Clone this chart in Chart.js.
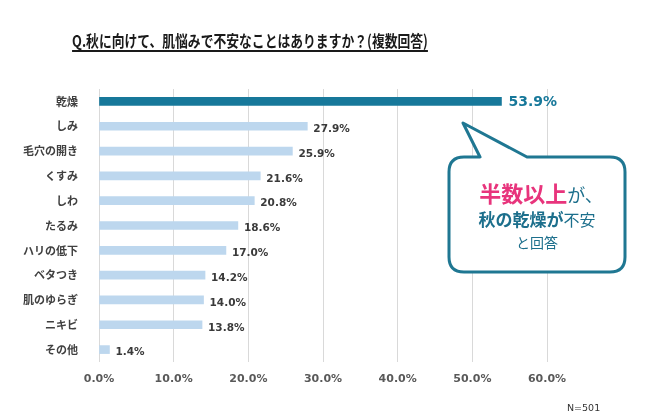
<!DOCTYPE html>
<html>
<head>
<meta charset="utf-8">
<script src="https://cdn.jsdelivr.net/npm/chart.js@4.4.1/dist/chart.umd.min.js"></script>
<style>
  html, body { margin: 0; padding: 0; background: #fff; }
  #wrap { position: relative; width: 650px; height: 417px; overflow: hidden; }
  #title {
    position: absolute; left: 0; width: 500px; top: 28px; text-align: center;
    font-family: 'Noto Sans CJK JP', sans-serif; font-weight: bold; font-size: 16px;
    color: #1a1a1a; text-decoration: underline; text-decoration-thickness: 2px;
    text-underline-offset: 3px; white-space: nowrap;
    transform: scaleX(0.8); transform-origin: 250px 0;
  }
  #note { position: absolute; left: 567px; top: 402px; font-family: 'DejaVu Sans', sans-serif; font-size: 9.5px; color: #333; }
  #callout { position: absolute; left: 0; top: 0; }
  .cl { position: absolute; left: 449px; width: 176px; text-align: center; font-family: 'Noto Sans CJK JP', sans-serif; color: #1c6f8c; white-space: nowrap; }
</style>
</head>
<body>
<div id="wrap">
  <canvas id="barChart" width="650" height="417"></canvas>
  <div id="title">Q.秋に向けて、肌悩みで不安なことはありますか？(複数回答)</div>
  <svg id="callout" width="650" height="417">
    <path d="M 527 157 L 463 123 L 480 157 H 464 Q 449 157 449 172 V 257 Q 449 272 464 272 H 610 Q 625 272 625 257 V 172 Q 625 157 610 157 Z"
          fill="#fff" stroke="#1f7792" stroke-width="3" stroke-linejoin="round"/>
  </svg>
  <div class="cl" style="top:176px;left:453px;"><span style="color:#e8347c;font-weight:bold;font-size:22px;">半数以上</span><span style="font-size:18px;">が、</span></div>
  <div class="cl" style="top:206px;"><span style="font-weight:bold;font-size:17px;">秋の乾燥が</span><span style="font-size:16px;">不安</span></div>
  <div class="cl" style="top:232px;font-size:14px;">と回答</div>
  <div id="note">N=501</div>
</div>
<script>
// values
const categories = ['乾燥', 'しみ', '毛穴の開き', 'くすみ', 'しわ', 'たるみ', 'ハリの低下', 'ベタつき', '肌のゆらぎ', 'ニキビ', 'その他'];
const percents = [53.9, 27.9, 25.9, 21.6, 20.8, 18.6, 17.0, 14.2, 14.0, 13.8, 1.4];
const xTicks = [0, 10, 20, 30, 40, 50, 60];

const darkColor = '#17789a';
const lightColor = '#bdd7ee';

// draws the value labels at the end of each bar
const valueLabels = {
    id: 'valueLabels',
    afterDatasetsDraw(chart) {
        const c = chart.ctx;
        const meta = chart.getDatasetMeta(0);
        c.save();
        c.textBaseline = 'middle';
        meta.data.forEach((bar, i) => {
            const txt = percents[i].toFixed(1) + '%';
            if (i === 0) {
                c.fillStyle = darkColor;
                c.font = 'bold 14px "DejaVu Sans", sans-serif';
                c.fillText(txt, bar.x + 7, bar.y + 1);
            } else {
                c.fillStyle = '#3a3a3a';
                c.font = 'bold 10.5px "DejaVu Sans", sans-serif';
                c.fillText(txt, bar.x + 6, bar.y + 3);
            }
        });
        c.restore();
    }
};

new Chart(document.getElementById('barChart'), {
    type: 'bar',
    data: {
        labels: categories,
        datasets: [{
            data: percents,
            backgroundColor: percents.map((v, i) => i === 0 ? darkColor : lightColor),
            barThickness: 8,
            borderWidth: 0
        }]
    },
    options: {
        indexAxis: 'y',
        responsive: false,
        animation: false,
        layout: { padding: { left: 0, right: 103, top: 89, bottom: 25 } },
        plugins: { legend: { display: false }, tooltip: { enabled: false } },
        scales: {
            x: {
                min: 0,
                max: 60,
                afterBuildTicks: axis => { axis.ticks = xTicks.map(v => ({ value: v })); },
                afterFit: axis => { axis.height = 30; },
                grid: { color: '#d9d9d9', lineWidth: 1, drawTicks: false },
                border: { display: false },
                ticks: {
                    padding: 11,
                    color: '#595959',
                    font: { family: '"DejaVu Sans", sans-serif', size: 11, weight: 'bold' },
                    callback: v => v.toFixed(1) + '%'
                }
            },
            y: {
                afterFit: axis => { axis.width = 99; },
                grid: { display: false },
                border: { display: false },
                ticks: {
                    padding: 13,
                    color: '#404040',
                    font: { family: '"Noto Sans CJK JP", sans-serif', size: 11, weight: 'bold' }
                }
            }
        }
    },
    plugins: [valueLabels]
});
</script>
</body>
</html>
